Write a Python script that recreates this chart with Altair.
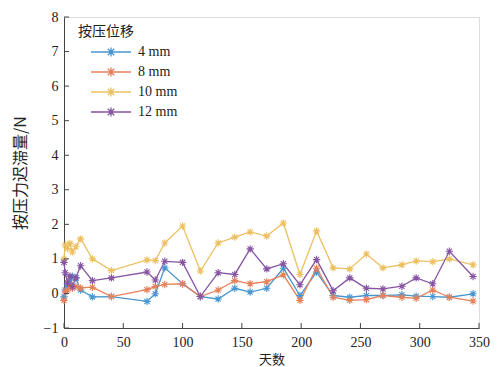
import altair as alt
import pandas as pd

days = [0, 1, 3, 5, 7, 10, 14, 24, 40, 70, 77, 85, 100, 115, 130, 144, 157, 171,
        185, 199, 213, 227, 241, 255, 269, 285, 297, 311, 325, 345]
s4 = [-0.1, 0.1, 0.25, 0.3, 0.5, 0.45, 0.1, -0.1, -0.09, -0.23, -0.01, 0.74, 0.28,
      -0.09, -0.16, 0.15, 0.04, 0.15, 0.73, -0.06, 0.62, -0.06, -0.11, -0.06, -0.06,
      -0.04, -0.08, -0.09, -0.11, -0.01]
s8 = [-0.2, 0.05, 0.1, 0.25, 0.15, 0.2, 0.16, 0.18, -0.09, 0.11, 0.2, 0.26, 0.28,
      -0.09, 0.1, 0.37, 0.28, 0.34, 0.54, -0.2, 0.73, -0.11, -0.2, -0.18, -0.06,
      -0.11, -0.14, 0.1, -0.11, -0.22]
s10 = [1.0, 1.4, 1.3, 1.45, 1.2, 1.35, 1.58, 1.0, 0.66, 0.97, 0.95, 1.46, 1.95, 0.65,
       1.46, 1.63, 1.78, 1.66, 2.04, 0.55, 1.81, 0.74, 0.71, 1.14, 0.74, 0.83, 0.94,
       0.92, 1.0, 0.83]
s12 = [0.9, 0.6, 0.3, 0.5, 0.2, 0.45, 0.8, 0.37, 0.45, 0.62, 0.39, 0.93, 0.9, -0.09,
       0.6, 0.55, 1.29, 0.71, 0.86, 0.25, 0.98, 0.08, 0.45, 0.15, 0.13, 0.21, 0.45,
       0.28, 1.22, 0.49]
series_names = ["4 mm", "8 mm", "10 mm", "12 mm"]
colors = ["#4896cf", "#e6805a", "#ecc062", "#8654a2"]
x_ticks = [0, 50, 100, 150, 200, 250, 300, 350]
y_ticks = [-1, 0, 1, 2, 3, 4, 5, 6, 7, 8]

rows = []
for name, vals in zip(series_names, [s4, s8, s10, s12]):
    for d, v in zip(days, vals):
        rows.append({"天数": d, "值": v, "按压位移": name})
df = pd.DataFrame(rows)

W, H = 415, 311
ast = "M-1,0L1,0M0,-1L0,1M-0.7,-0.7L0.7,0.7M-0.7,0.7L0.7,-0.7"
legend_sym = ("M-2.5,0L2.5,0M-0.55,0L0.55,0M0,-0.55L0,0.55"
              "M-0.4,-0.4L0.4,0.4M-0.4,0.4L0.4,-0.4")

xs = alt.Scale(domain=[0, 350], nice=False, zero=False, padding=0)
ys = alt.Scale(domain=[-1, 8], nice=False, zero=False, padding=0)
color = alt.Color("按压位移:N", scale=alt.Scale(domain=series_names, range=colors),
                  legend=alt.Legend(orient="none", legendX=14, legendY=8,
                                    symbolType=legend_sym, symbolSize=256,
                                    symbolStrokeWidth=1.3, symbolOffset=24,
                                    labelOffset=18, rowPadding=4,
                                    titleFont="Noto Sans CJK SC", titleFontSize=14,
                                    titleFontWeight="normal", titleColor="#222",
                                    labelFont="Liberation Serif", labelFontSize=14,
                                    labelColor="#222", titlePadding=4))

xaxis = alt.Axis(values=x_ticks, ticks=False, grid=False, domainColor="#444",
                 labelOverlap=False, labelFlush=False,
                 labelFont="Liberation Serif", labelFontSize=14, labelColor="#222",
                 labelPadding=7, title="天数", titleFont="Noto Sans CJK SC",
                 titleFontSize=13, titleFontWeight="normal", titleColor="#222",
                 titlePadding=4)
yaxis = alt.Axis(values=y_ticks, ticks=False, grid=False, domainColor="#444",
                 labelOverlap=False, labelFlush=False, labelBound=False,
                 labelFont="Liberation Serif", labelFontSize=14, labelColor="#222",
                 labelPadding=6, title="按压力迟滞量/N", titleFont="Noto Sans CJK SC",
                 titleFontSize=16, titleFontWeight="normal", titleColor="#222",
                 titlePadding=15)

lines = alt.Chart(df).mark_line(strokeWidth=1.3).encode(
    x=alt.X("天数:Q", scale=xs, axis=xaxis, title="天数"),
    y=alt.Y("值:Q", scale=ys, axis=yaxis, title="按压力迟滞量/N"),
    color=color,
    detail="按压位移:N",
)
pts = alt.Chart(df).mark_point(shape=ast, filled=False, size=55, strokeWidth=1.1,
                               opacity=1).encode(
    x=alt.X("天数:Q", scale=xs, axis=xaxis, title="天数"),
    y=alt.Y("值:Q", scale=ys, axis=yaxis, title="按压力迟滞量/N"),
    color=alt.Color("按压位移:N", scale=alt.Scale(domain=series_names, range=colors),
                    legend=None),
)

xt = pd.DataFrame({"t": x_ticks})
yt = pd.DataFrame({"t": y_ticks})
xtick_marks = alt.Chart(xt).mark_rule(color="#444", strokeWidth=1).encode(
    x=alt.X("t:Q", scale=xs, axis=xaxis, title="天数"),
    y=alt.value(H), y2=alt.value(H - 5))
ytick_marks = alt.Chart(yt).mark_rule(color="#444", strokeWidth=1).encode(
    y=alt.Y("t:Q", scale=ys, axis=yaxis, title="按压力迟滞量/N"),
    x=alt.value(0), x2=alt.value(5))

chart = alt.layer(lines, pts, xtick_marks, ytick_marks).properties(
    width=W, height=H, autosize="none",
    padding={"left": 64, "top": 17, "right": 18, "bottom": 39},
).configure_view(stroke=None).configure(background="white")

chart.save("out.html", embed_options={"renderer": "svg", "actions": False})
